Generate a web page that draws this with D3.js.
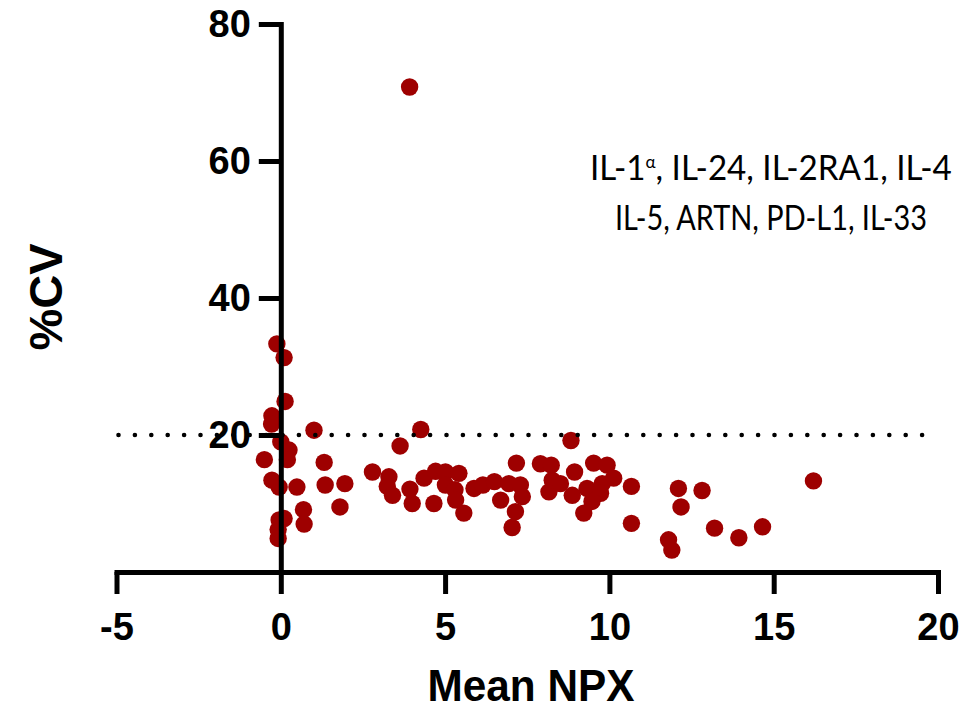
<!DOCTYPE html>
<html>
<head>
<meta charset="utf-8">
<script src="https://cdn.jsdelivr.net/npm/d3@7"></script>
<style>
  html, body { margin: 0; padding: 0; background: #fff; }
  svg { display: block; }
</style>
</head>
<body>
<svg id="chart" width="976" height="711"></svg>
<script>
// values
const meanNpx = [
  -0.12, 0.10, 0.13, -0.27, -0.28, 1.01, 0.00, 0.25, 0.20, -0.50,
  1.32, -0.27, -0.05, 0.49, 1.35, 1.95, 0.69, 0.71, 1.80, 0.10,
  -0.05, -0.08, -0.08, 2.79, 3.29, 3.24, 3.40, 3.63, 3.92, 4.26,
  3.93, 4.00, 4.36, 4.71, 5.01, 5.42, 5.01, 5.30, 4.66, 5.32,
  5.57, 5.88, 6.15, 6.50, 6.69, 6.94, 7.29, 7.35, 7.17, 7.14,
  7.04, 7.90, 8.23, 8.83, 8.94, 8.16, 8.26, 8.51, 8.87, 9.32,
  9.52, 9.93, 10.13, 9.78, 9.73, 9.47, 9.22, 10.67, 10.67, 11.80,
  11.90, 12.10, 12.18, 12.82, 13.20, 13.94, 14.66, 16.21
];
const cvPct = [
  33.3, 31.3, 24.9, 22.8, 21.6, 20.7, 19.0, 17.8, 16.4, 16.4,
  16.0, 13.4, 12.4, 12.4, 12.7, 12.9, 9.1, 7.0, 9.5, 7.8,
  7.6, 6.2, 4.9, 14.6, 13.9, 12.5, 11.2, 18.4, 70.8, 20.8,
  12.1, 10.0, 13.7, 14.7, 14.6, 14.4, 12.7, 12.0, 10.0, 10.5,
  8.6, 12.2, 12.7, 13.2, 10.5, 12.9, 12.7, 11.0, 15.9, 8.8,
  6.5, 15.8, 15.6, 19.2, 14.6, 11.7, 13.4, 12.9, 11.2, 12.2,
  15.9, 15.6, 13.7, 12.9, 11.5, 10.3, 8.6, 12.5, 7.1, 4.7,
  3.2, 12.2, 9.5, 11.9, 6.4, 5.0, 6.6, 13.3
];
const xTicks = [-5, 0, 5, 10, 15, 20];
const yTicks = [20, 40, 60, 80];
const threshold = 20;
const noteLine1 = ["IL-1", "\u03B1", ", IL-24, IL-2RA1, IL-4"];
const noteLine2 = "IL-5, ARTN, PD-L1, IL-33";

const points = meanNpx.map((v, i) => ({ x: v, y: cvPct[i] }));

const svg = d3.select("#chart");
const boldFont = "'Liberation Sans', Arial, Helvetica, sans-serif";
const noteFont = "Lato, 'Open Sans', sans-serif";

const x = d3.scaleLinear().domain([-5, 20]).range([116.5, 938]);
const y = d3.scaleLinear().domain([0, 80]).range([572, 24]);

const AXIS_W = 5;

// points first, dotted line drawn on top
svg.append("g")
  .selectAll("circle")
  .data(points)
  .join("circle")
  .attr("cx", (d) => x(d.x))
  .attr("cy", (d) => y(d.y))
  .attr("r", 8.7)
  .attr("fill", "#9e0000");

svg.append("line")
  .attr("x1", x(-5) + 2)
  .attr("x2", x(20))
  .attr("y1", y(threshold))
  .attr("y2", y(threshold))
  .attr("stroke", "#000")
  .attr("stroke-width", 4.6)
  .attr("stroke-linecap", "round")
  .attr("stroke-dasharray", "0 16.4");

const gx = svg.append("g")
  .attr("transform", `translate(0,${y(0)})`)
  .call(d3.axisBottom(x).tickValues(xTicks).tickSize(22).tickSizeOuter(0)
    .tickPadding(19).tickFormat((d) => String(d)));

const gy = svg.append("g")
  .attr("transform", `translate(${x(0)},0)`)
  .call(d3.axisLeft(y).tickValues(yTicks).tickSize(22).tickSizeOuter(0)
    .tickPadding(8).tickFormat((d) => String(d)));

for (const g of [gx, gy]) {
  g.select(".domain").attr("stroke-width", AXIS_W).attr("stroke-linecap", "square");
  g.selectAll(".tick line").attr("stroke-width", AXIS_W);
  g.selectAll(".tick text")
    .attr("fill", "#000")
    .style("font-family", boldFont)
    .style("font-weight", "bold")
    .style("font-size", "38px");
}
// y-axis tick at 0 goes below the x axis
gx.selectAll(".tick").filter((d) => d === 0).select("line").attr("y1", -2);

// axis titles
svg.append("text")
  .attr("x", 531)
  .attr("y", 701)
  .attr("text-anchor", "middle")
  .attr("textLength", 207)
  .attr("lengthAdjust", "spacingAndGlyphs")
  .style("font-family", boldFont)
  .style("font-weight", "bold")
  .style("font-size", "45px")
  .text("Mean NPX");

svg.append("text")
  .attr("transform", "translate(62,297) rotate(-90)")
  .attr("text-anchor", "middle")
  .style("font-family", boldFont)
  .style("font-weight", "bold")
  .style("font-size", "47px")
  .text("%CV");

// annotation, squeezed to the reference width
function noteLine(cx, baseline, targetW, build) {
  const g = svg.append("g");
  const t = g.append("text")
    .style("font-family", noteFont)
    .style("font-size", "35px")
    .attr("fill", "#000");
  build(t);
  const w = t.node().getComputedTextLength();
  t.attr("x", -w / 2);
  g.attr("transform", `translate(${cx},${baseline}) scale(${targetW / w},1)`);
}

noteLine(771, 180, 362, (t) => {
  t.append("tspan").text(noteLine1[0]);
  t.append("tspan").attr("dy", -12).style("font-size", "18px").text(noteLine1[1]);
  t.append("tspan").attr("dy", 12).text(noteLine1[2]);
});
noteLine(771, 230, 312, (t) => t.text(noteLine2));
</script>
</body>
</html>
